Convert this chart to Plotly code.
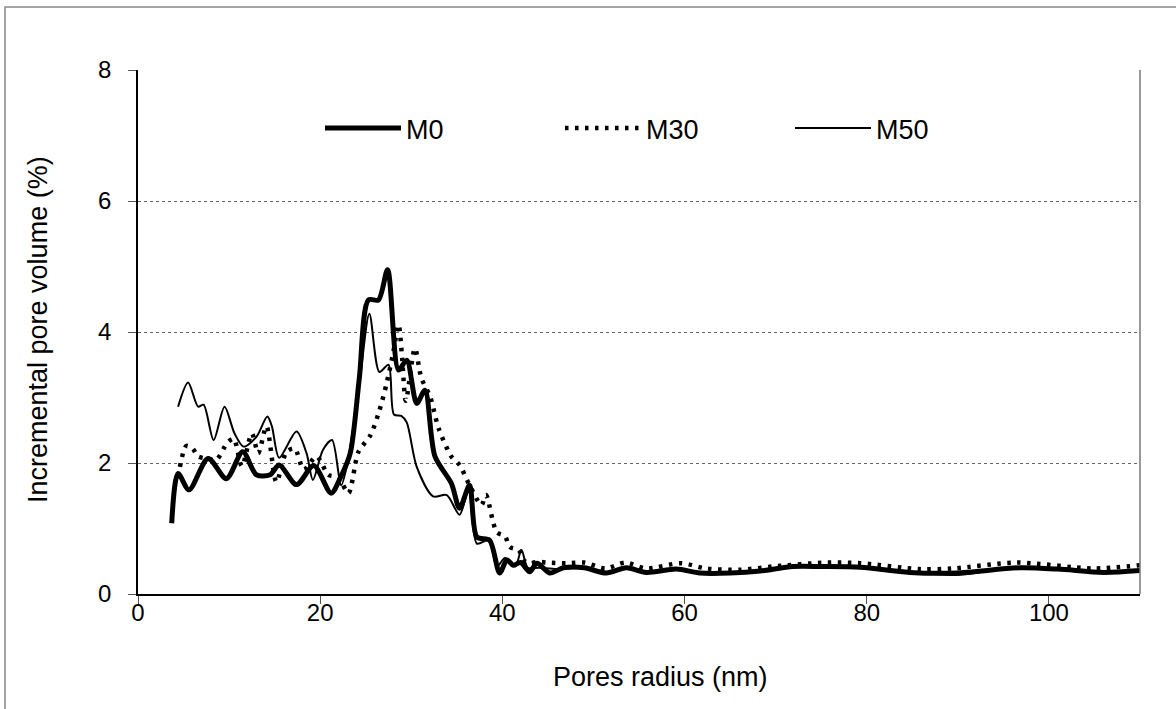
import plotly.graph_objects as go

# ---- data ----
m0_r = [3.7, 4.4, 5.6, 7.7, 9.7, 11.5, 13.0, 14.5, 15.5, 17.4, 19.3, 21.2, 22.3, 23.3, 24.3,
        25.3, 26.4, 27.4, 28.6, 29.5, 30.6, 31.5, 32.6, 34.4, 35.3, 36.4, 37.2, 38.6, 39.7,
        40.5, 41.2, 42.0, 43.0, 43.8, 45.2, 46.7, 49.0, 51.4, 53.6, 55.8, 59.1, 61.7, 65.0,
        68.3, 71.9, 75.0, 79.3, 84.7, 89.8, 96.8, 101.0, 106.0, 110.0]
m0_v = [1.08, 1.84, 1.59, 2.07, 1.76, 2.17, 1.82, 1.82, 1.97, 1.67, 1.96, 1.54, 1.80, 2.15, 3.30,
        4.49, 4.49, 4.95, 3.42, 3.57, 2.91, 3.11, 2.10, 1.69, 1.31, 1.66, 0.87, 0.82, 0.32,
        0.52, 0.44, 0.48, 0.34, 0.47, 0.32, 0.40, 0.40, 0.32, 0.40, 0.33, 0.38, 0.32, 0.32,
        0.35, 0.42, 0.42, 0.41, 0.33, 0.32, 0.40, 0.38, 0.33, 0.36]

m30_r = [4.6, 5.3, 6.0, 6.6, 7.5, 8.6, 9.8, 10.5, 11.4, 12.5, 13.2, 14.1, 15.2, 16.3, 17.2,
         18.2, 19.6, 20.9, 22.0, 23.1, 24.2, 25.5, 26.5, 27.3, 28.0, 28.6, 29.0, 29.4, 30.4,
         31.1, 32.1, 33.0, 34.4, 35.3, 36.3, 37.7, 38.2, 39.0, 39.4, 40.3, 40.8, 41.8, 42.3,
         43.0, 43.9, 44.9, 47.0, 49.0, 51.3, 53.5, 55.8, 59.6, 62.4, 66.1, 69.7, 75.6, 79.3,
         85.8, 89.5, 96.4, 104.9, 110.0]
m30_v = [1.94, 2.26, 2.22, 2.10, 2.07, 2.05, 2.31, 2.37, 1.95, 2.45, 2.15, 2.56, 1.71, 2.17, 2.22,
         1.90, 2.10, 1.82, 1.78, 1.54, 2.17, 2.42, 2.80, 3.22, 3.67, 4.11, 3.60, 2.95, 3.75,
         3.30, 3.00, 2.53, 2.10, 1.97, 1.69, 1.36, 1.51, 1.09, 0.94, 0.88, 0.72, 0.67, 0.52,
         0.47, 0.49, 0.48, 0.47, 0.48, 0.39, 0.48, 0.39, 0.47, 0.39, 0.37, 0.42, 0.48, 0.47,
         0.38, 0.39, 0.48, 0.39, 0.44]

m50_r = [4.4, 5.5, 6.6, 7.2, 8.3, 9.5, 10.6, 11.6, 13.0, 14.2, 14.7, 15.5, 17.4, 18.5, 19.2,
         20.3, 21.3, 22.3, 23.0, 24.3, 25.4, 26.5, 27.5, 28.1, 28.9, 29.5, 30.6, 32.4, 33.9,
         35.3, 36.3, 37.2, 38.5, 39.4, 40.3, 41.4, 42.1, 42.8, 44.0, 46.0, 49.0, 51.4, 53.6,
         55.8, 59.0, 61.7, 65.0, 68.3, 72.0, 75.0, 79.3, 84.0, 89.8, 95.0, 101.0, 106.0, 110.0]
m50_v = [2.86, 3.23, 2.86, 2.89, 2.35, 2.86, 2.45, 2.25, 2.40, 2.71, 2.56, 2.08, 2.48, 2.15, 1.74,
         2.20, 2.35, 1.66, 2.00, 3.20, 4.28, 3.39, 3.50, 2.74, 2.72, 2.62, 1.94, 1.49, 1.51,
         1.21, 1.59, 0.77, 0.82, 0.42, 0.55, 0.42, 0.67, 0.40, 0.40, 0.38, 0.40, 0.32, 0.40,
         0.33, 0.38, 0.32, 0.32, 0.36, 0.42, 0.42, 0.40, 0.34, 0.29, 0.38, 0.38, 0.32, 0.37]

series_names = ["M0", "M30", "M50"]
x_ticks = [0, 20, 40, 60, 80, 100]
y_ticks = [0, 2, 4, 6, 8]
x_title = "Pores radius (nm)"
y_title = "Incremental pore volume (%)"

FONT = "Liberation Sans, Arial, sans-serif"
FS_TICK = 24
FS_TITLE = 27
FS_LEG = 27

L, R, T, B = 138, 36, 70, 115
W, H = 1176, 709
pw, ph = W - L - R, H - T - B

def px_x(p):
    return (p - L) / pw

def px_y(p):
    return (H - B - p) / ph

fig = go.Figure()
fig.add_trace(go.Scatter(x=m0_r, y=m0_v, name=series_names[0], mode="lines", legend="legend",
                         line=dict(color="black", width=5, shape="spline", smoothing=0.8)))
fig.add_trace(go.Scatter(x=m30_r, y=m30_v, name=series_names[1], mode="lines", legend="legend2",
                         line=dict(color="black", width=4.5, dash="3.5px,6.5px", shape="spline", smoothing=0.8)))
fig.add_trace(go.Scatter(x=m50_r, y=m50_v, name=series_names[2], mode="lines", legend="legend3",
                         line=dict(color="black", width=2, shape="spline", smoothing=0.8)))

def leg(xpx):
    return dict(x=px_x(xpx), y=px_y(104), xanchor="left", yanchor="top", orientation="v",
                itemwidth=76, font=dict(family=FONT, size=FS_LEG, color="black"),
                bgcolor="rgba(0,0,0,0)", borderwidth=0)

fig.update_layout(
    width=W, height=H,
    margin=dict(l=L, r=R, t=T, b=B),
    paper_bgcolor="white", plot_bgcolor="white",
    font=dict(family=FONT, size=FS_TICK, color="black"),
    showlegend=True,
    legend=leg(320), legend2=leg(560), legend3=leg(790),
    xaxis=dict(range=[0, 110], tickvals=x_ticks, ticks="outside", ticklen=8, tickcolor="#555",
               ticklabelstandoff=-12,
               showline=True, linecolor="black", linewidth=1.5, showgrid=False, zeroline=False,
               tickfont=dict(family=FONT, size=FS_TICK, color="black")),
    yaxis=dict(range=[0, 8], tickvals=y_ticks, ticks="outside", ticklen=8, tickcolor="#555",
               ticklabelstandoff=12,
               showline=True, linecolor="black", linewidth=1.5, showgrid=True,
               gridcolor="#666", griddash="dot", gridwidth=1, zeroline=False,
               tickfont=dict(family=FONT, size=FS_TICK, color="black")),
    annotations=[
        dict(text=x_title, xref="paper", yref="paper", x=px_x(660), y=px_y(677),
             xanchor="center", yanchor="middle", showarrow=False,
             font=dict(family=FONT, size=FS_TITLE, color="black")),
        dict(text=y_title, xref="paper", yref="paper", x=px_x(38), y=px_y(330),
             xanchor="center", yanchor="middle", showarrow=False, textangle=-90,
             font=dict(family=FONT, size=FS_TITLE, color="black")),
    ],
    shapes=[
        dict(type="line", xref="paper", yref="paper", x0=1, x1=1, y0=0, y1=1,
             line=dict(color="#777", width=1.5)),
        dict(type="rect", xref="paper", yref="paper",
             x0=px_x(5), x1=px_x(1185), y0=px_y(720), y1=px_y(7),
             line=dict(color="#888", width=1.5), layer="below"),
    ],
)

fig.write_html("out.html")
